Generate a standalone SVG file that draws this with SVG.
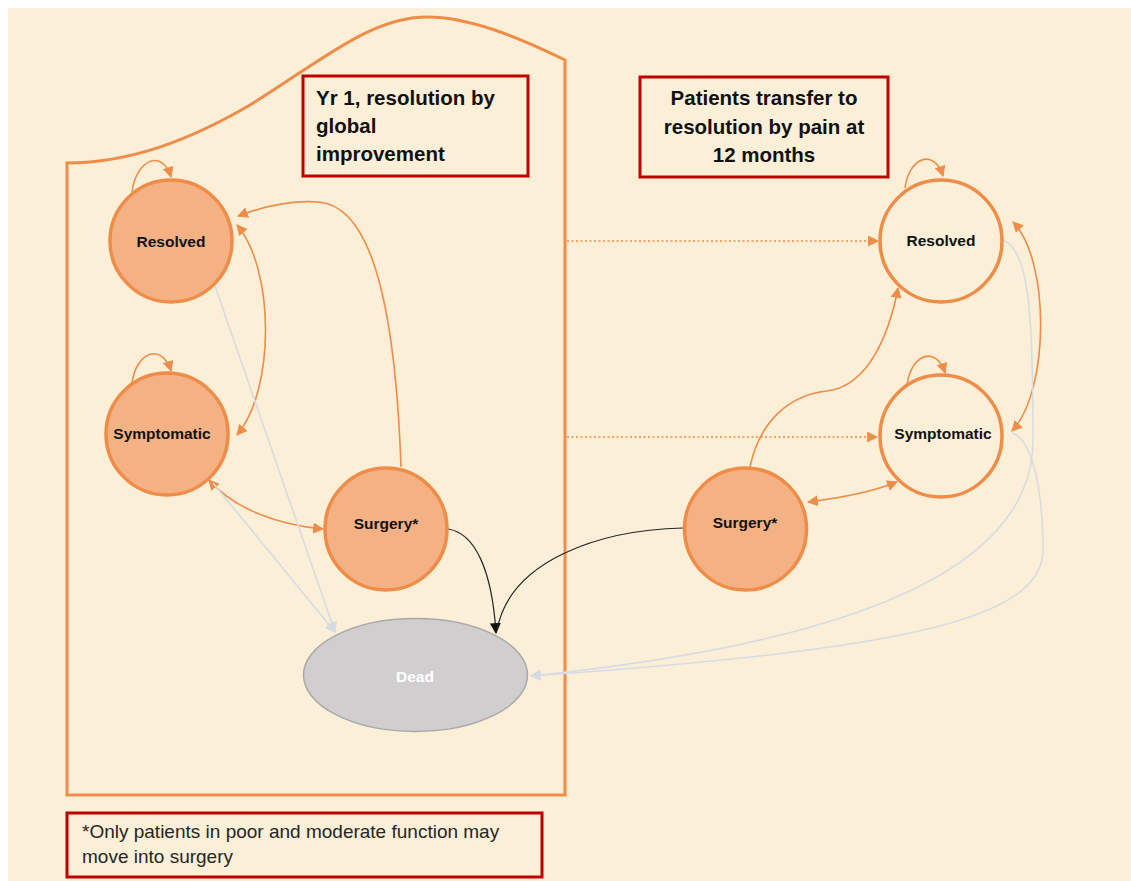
<svg xmlns="http://www.w3.org/2000/svg" width="1131" height="881" viewBox="0 0 1131 881">
  <style>
    .node { stroke: #EF8C48; stroke-width: 3.5; }
    .filled { fill: #F4B183; }
    .open { fill: #FBEFD7; }
    .lbl { font-family: "Liberation Sans", Arial, sans-serif; font-weight: bold; font-size: 15.5px; fill: #111111; text-anchor: middle; }
    .title { font-family: "Liberation Sans", Arial, sans-serif; font-weight: bold; font-size: 20.5px; fill: #111111; }
    .note { font-family: "Liberation Sans", Arial, sans-serif; font-size: 19px; fill: #262626; }
    .box { fill: none; stroke: #C00000; stroke-width: 3; }
    .orange { fill: none; stroke: #EF8C48; stroke-width: 1.6; }
    .grey { fill: none; stroke: #D6DCE4; stroke-width: 1.6; }
    .black { fill: none; stroke: #262626; stroke-width: 1.2; }
    .dotted { fill: none; stroke: #EF8C48; stroke-width: 1.6; stroke-dasharray: 2 2.5; }
  </style>
  <defs>
    <marker id="arrOrange" viewBox="0 0 10 10" refX="9" refY="5" markerWidth="11" markerHeight="11" markerUnits="userSpaceOnUse" orient="auto-start-reverse">
      <path d="M0,0 L10,5 L0,10 z" fill="#EF8C48"/>
    </marker>
    <marker id="arrGrey" viewBox="0 0 10 10" refX="9" refY="5" markerWidth="11" markerHeight="11" markerUnits="userSpaceOnUse" orient="auto">
      <path d="M0,0 L10,5 L0,10 z" fill="#D6DCE4"/>
    </marker>
    <marker id="arrBlack" viewBox="0 0 10 10" refX="9" refY="5" markerWidth="11" markerHeight="11" markerUnits="userSpaceOnUse" orient="auto">
      <path d="M0,0 L10,5 L0,10 z" fill="#111111"/>
    </marker>
  </defs>

  <!-- page background -->
  <rect x="0" y="0" width="1131" height="881" fill="#FFFFFF"/>
  <rect x="8" y="8" width="1123" height="873" fill="#FBEFD7"/>

  <!-- year-one container with its curved top -->
  <path d="M67,795 L67,163 C130,163 190,140 250,105 C320,62 370,17 427,17 C470,17 520,38 565,60 L565,795 Z" fill="none" stroke="#EF8C48" stroke-width="3"/>

  <!-- captions -->
  <g id="caption-yr1">
    <rect class="box" x="303" y="76" width="225" height="100"/>
    <text class="title" x="316" y="105">Yr 1, resolution by</text>
    <text class="title" x="316" y="133">global</text>
    <text class="title" x="316" y="161">improvement</text>
  </g>
  <g id="caption-transfer">
    <rect class="box" x="640" y="77" width="248" height="100"/>
    <text class="title" x="764" y="105" text-anchor="middle">Patients transfer to</text>
    <text class="title" x="764" y="134" text-anchor="middle">resolution by pain at</text>
    <text class="title" x="764" y="162" text-anchor="middle">12 months</text>
  </g>
  <g id="footnote">
    <rect class="box" x="67" y="813" width="475" height="64"/>
    <text class="note" x="82" y="838">*Only patients in poor and moderate function may</text>
    <text class="note" x="82" y="863">move into surgery</text>
  </g>

  <!-- transitions -->
  <g id="connectors">
    <!-- self loops -->
    <path class="orange" d="M132,192 C136,160 162,148 171,177" marker-end="url(#arrOrange)"/>
    <path class="orange" d="M132,383 C136,352 162,342 171,371" marker-end="url(#arrOrange)"/>
    <path class="orange" d="M905,188 C909,157 934,148 943,176" marker-end="url(#arrOrange)"/>
    <path class="orange" d="M907,385 C911,354 936,345 945,373" marker-end="url(#arrOrange)"/>

    <!-- year one -->
    <path class="orange" d="M401,467 C395,300 370,205 318,202 C290,200 262,207 238,216" marker-end="url(#arrOrange)"/>
    <path class="orange" d="M237,225 C275,270 275,390 237,435" marker-start="url(#arrOrange)" marker-end="url(#arrOrange)"/>
    <path class="orange" d="M209,480 C235,510 280,525 323,529" marker-start="url(#arrOrange)" marker-end="url(#arrOrange)"/>
    <path class="grey" d="M215,286 L335,632" marker-end="url(#arrGrey)"/>
    <path class="grey" d="M213,483 L335,632" marker-end="url(#arrGrey)"/>
    <path class="black" d="M448,529 C475,533 492,570 496,633" marker-end="url(#arrBlack)"/>

    <!-- transfer at 12 months -->
    <path class="dotted" d="M567,241 L878,241" marker-end="url(#arrOrange)"/>
    <path class="dotted" d="M567,437 L877,437" marker-end="url(#arrOrange)"/>

    <!-- after transfer -->
    <path class="black" d="M683,528 C600,530 510,560 497,630"/>
    <path class="orange" d="M750,467 C760,420 790,395 827,391 C870,386 890,330 898,288" marker-end="url(#arrOrange)"/>
    <path class="orange" d="M808,502 C840,498 872,492 897,482" marker-start="url(#arrOrange)" marker-end="url(#arrOrange)"/>
    <path class="orange" d="M1013,222 C1050,260 1050,390 1012,431" marker-start="url(#arrOrange)" marker-end="url(#arrOrange)"/>
    <path class="grey" d="M1003,240 C1030,250 1033,320 1033,440 C1033,560 880,640 531,676" marker-end="url(#arrGrey)"/>
    <path class="grey" d="M1012,433 C1035,440 1043,500 1043,550 C1043,620 900,650 531,676" marker-end="url(#arrGrey)"/>
  </g>

  <!-- states -->
  <g id="resolved-yr1">
    <circle class="node filled" cx="171" cy="241" r="61"/>
    <text class="lbl" x="171" y="247">Resolved</text>
  </g>
  <g id="symptomatic-yr1">
    <circle class="node filled" cx="167" cy="434" r="61"/>
    <text class="lbl" x="162" y="439">Symptomatic</text>
  </g>
  <g id="surgery-yr1">
    <circle class="node filled" cx="386" cy="529" r="61"/>
    <text class="lbl" x="386" y="529">Surgery*</text>
  </g>
  <g id="dead">
    <ellipse cx="415.5" cy="675" rx="112" ry="56.5" fill="#D0CECE" stroke="#A9A9A9" stroke-width="1.5"/>
    <text class="lbl" x="415" y="682" style="fill:#FFFFFF">Dead</text>
  </g>
  <g id="resolved-pain">
    <circle class="node open" cx="941" cy="241" r="61"/>
    <text class="lbl" x="941" y="246">Resolved</text>
  </g>
  <g id="symptomatic-pain">
    <circle class="node open" cx="941" cy="436" r="61"/>
    <text class="lbl" x="943" y="439">Symptomatic</text>
  </g>
  <g id="surgery-pain">
    <circle class="node filled" cx="745.5" cy="529" r="61"/>
    <text class="lbl" x="745" y="528">Surgery*</text>
  </g>
</svg>
